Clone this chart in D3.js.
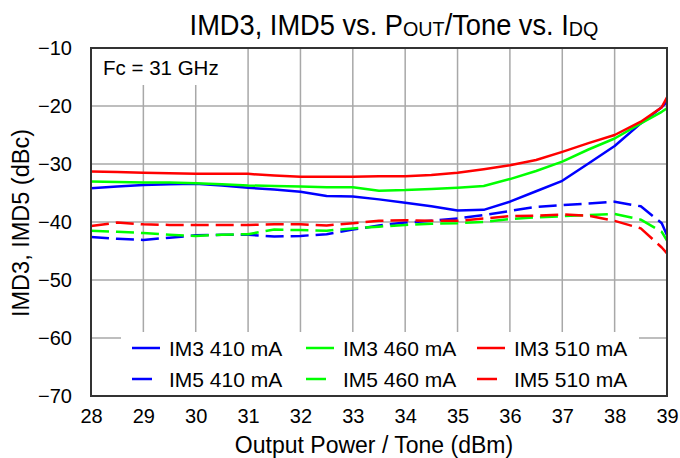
<!DOCTYPE html>
<html><head><meta charset="utf-8">
<script src="https://cdn.jsdelivr.net/npm/d3@7"></script>
<style>body{margin:0;background:#fff}svg{display:block;font-family:"Liberation Sans",Arial,sans-serif}</style>
</head><body><svg id="c" width="680" height="458"></svg>
<script>
const pout = [28,28.5,29,29.5,30,30.5,31,31.5,32,32.5,33,33.5,34,34.5,35,35.5,36,36.5,37,37.5,38,38.5,38.9,39];
const im3_410 = [-34.2,-33.9,-33.6,-33.5,-33.4,-33.7,-34.1,-34.4,-34.8,-35.5,-35.6,-36.1,-36.7,-37.3,-38.0,-37.9,-36.5,-34.7,-32.9,-29.9,-26.9,-23.0,-20.2,-19.3];
const im3_460 = [-33.0,-33.1,-33.2,-33.2,-33.3,-33.5,-33.7,-33.8,-33.9,-34.0,-34.0,-34.6,-34.5,-34.3,-34.1,-33.8,-32.6,-31.2,-29.6,-27.5,-25.6,-23.0,-21.0,-20.4];
const im3_510 = [-31.3,-31.4,-31.5,-31.6,-31.7,-31.7,-31.7,-32.0,-32.2,-32.2,-32.2,-32.1,-32.1,-31.9,-31.5,-30.9,-30.2,-29.3,-27.9,-26.4,-25.0,-22.7,-20.2,-18.5];
const im5_410 = [-42.6,-42.9,-43.1,-42.7,-42.3,-42.2,-42.2,-42.5,-42.4,-42.1,-41.3,-40.6,-40.1,-39.8,-39.4,-38.8,-38.1,-37.4,-37.1,-36.8,-36.5,-37.3,-40.2,-42.3];
const im5_460 = [-41.5,-41.7,-41.9,-42.2,-42.4,-42.2,-42.1,-41.3,-41.4,-41.5,-41.1,-40.8,-40.5,-40.3,-40.2,-40.0,-39.5,-39.2,-39.0,-38.8,-38.6,-39.6,-41.7,-43.2];
const im5_510 = [-40.7,-40.1,-40.4,-40.5,-40.5,-40.5,-40.5,-40.4,-40.4,-40.6,-40.2,-39.8,-39.7,-39.8,-39.8,-39.4,-39.0,-38.9,-38.7,-38.9,-39.8,-41.1,-44.4,-45.4];
const seriesNames = ["IM3 410 mA","IM3 460 mA","IM3 510 mA","IM5 410 mA","IM5 460 mA","IM5 510 mA"];
const seriesValues = [im3_410, im3_460, im3_510, im5_410, im5_460, im5_510];
const seriesColors = ["#0000FF","#00FF00","#FF0000","#0000FF","#00FF00","#FF0000"];
const seriesDashed = [false,false,false,true,true,true];
const xTicks = [28,29,30,31,32,33,34,35,36,37,38,39];
const yTicks = [-10,-20,-30,-40,-50,-60,-70];

const svg = d3.select("#c");
const L=91,R=667,T=48,B=396;
const x = d3.scaleLinear().domain([28,39]).range([L,R]);
const y = d3.scaleLinear().domain([-70,-10]).range([B,T]);

// grid
const g = svg.append("g");
g.selectAll("line.v").data(xTicks.slice(1,-1)).join("line")
  .attr("x1",d=>x(d)).attr("x2",d=>x(d)).attr("y1",T).attr("y2",B)
  .attr("stroke","#A8A8A8").attr("stroke-width",1.5);
g.selectAll("line.h").data(yTicks.slice(1,-1)).join("line")
  .attr("x1",L).attr("x2",R).attr("y1",d=>y(d)).attr("y2",d=>y(d))
  .attr("stroke","#A8A8A8").attr("stroke-width",1.5);

// white boxes (annotation + legend)
svg.append("rect").attr("x",L).attr("y",T).attr("width",134).attr("height",37).attr("fill","#fff");
svg.append("text").attr("x",103).attr("y",75).attr("font-size",20.5).text("Fc = 31 GHz");
svg.append("rect").attr("x",121).attr("y",332).attr("width",518).attr("height",B-332).attr("fill","#fff");

// lines
const line = d3.line().x((d,i)=>x(pout[i])).y(d=>y(d));
seriesValues.forEach((vals,k)=>{
  svg.append("path").datum(vals).attr("d",line).attr("fill","none")
    .attr("stroke",seriesColors[k]).attr("stroke-width",2.5)
    .attr("stroke-linejoin","round")
    .attr("stroke-dasharray",seriesDashed[k]?"18,7":null);
});

// border
svg.append("rect").attr("x",L).attr("y",T).attr("width",R-L).attr("height",B-T)
  .attr("fill","none").attr("stroke","#333").attr("stroke-width",2);

// axes
const xa = svg.append("g").attr("transform",`translate(0,${B})`)
  .call(d3.axisBottom(x).tickValues(xTicks).tickSize(0).tickPadding(13).tickFormat(d3.format("d")));
xa.select(".domain").remove();
xa.selectAll("text").attr("font-size",20).attr("fill","#000").attr("font-family","Liberation Sans, Arial, sans-serif");
const ya = svg.append("g").attr("transform",`translate(${L},0)`)
  .call(d3.axisLeft(y).tickValues(yTicks).tickSize(0).tickPadding(19).tickFormat(d3.format("d")));
ya.select(".domain").remove();
ya.selectAll("text").attr("font-size",20).attr("fill","#000").attr("font-family","Liberation Sans, Arial, sans-serif");

svg.append("text").attr("x",374).attr("y",453).attr("text-anchor","middle").attr("font-size",23).text("Output Power / Tone (dBm)");
svg.append("text").attr("transform",`translate(28.5,223) rotate(-90)`).attr("text-anchor","middle").attr("font-size",23.5).text("IMD3, IMD5 (dBc)");

// title
const t = svg.append("text").attr("transform","translate(394,35) scale(0.94,1)").attr("text-anchor","middle").attr("font-size",29);
t.append("tspan").text("IMD3, IMD5 vs. P");
t.append("tspan").attr("font-size",21).attr("dy",1).text("OUT");
t.append("tspan").attr("dy",-1).text("/Tone vs. I");
t.append("tspan").attr("font-size",21).attr("dy",1).text("DQ");

// legend
const legX = [132,306,477], legY=[348,379], txtOff=37;
seriesNames.forEach((n,k)=>{
  const col=k%3, row=Math.floor(k/3);
  const lx=legX[col], ly=legY[row];
  svg.append("line").attr("x1",lx).attr("x2",lx+(seriesDashed[k]?20:28)).attr("y1",ly).attr("y2",ly)
    .attr("stroke",seriesColors[k]).attr("stroke-width",2.5);
  svg.append("text").attr("x",lx+txtOff).attr("y",ly+7.5).attr("font-size",21).text(n);
});
</script></body></html>
